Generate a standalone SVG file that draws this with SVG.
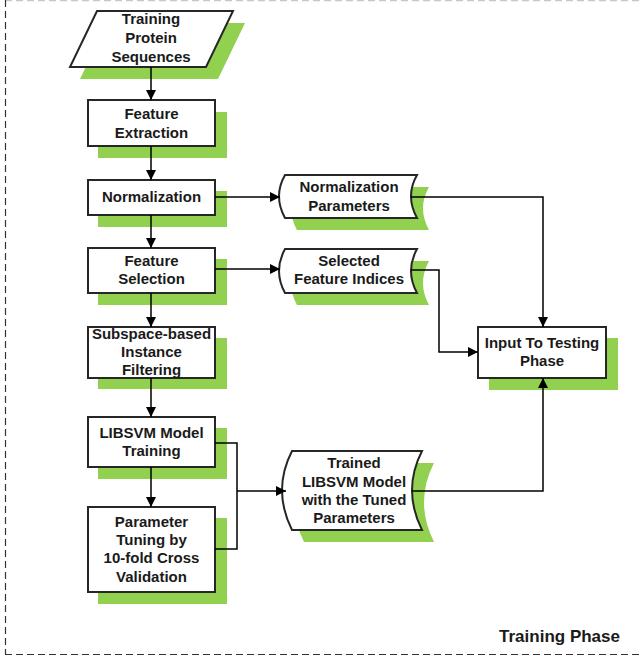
<svg xmlns="http://www.w3.org/2000/svg" width="642" height="657" viewBox="0 0 642 657">
<style>
.sh{fill:#92d050;stroke:none}
.nd{fill:#fff;stroke:#262626;stroke-width:2}
.t{font-family:"Liberation Sans",Arial,sans-serif;font-weight:bold;font-size:15px;fill:#1a1a1a;text-anchor:middle}
.c{fill:none;stroke:#000;stroke-width:1.5}
</style>
<defs>
<marker id="ah" viewBox="0 0 10 10" refX="10" refY="5" markerWidth="10" markerHeight="10" markerUnits="userSpaceOnUse" orient="auto">
<path d="M0,0 L10,5 L0,10 Z" fill="#000"/>
</marker>
</defs>
<rect width="642" height="657" fill="#fff"/>
<g id="border">
<line x1="5" y1="0.5" x2="642" y2="0.5" stroke="#c8c8c8" stroke-width="1.5" stroke-dasharray="7 4"/>
<line x1="5.5" y1="0" x2="5.5" y2="654.5" stroke="#333" stroke-width="1.2" stroke-dasharray="7 4"/>
<line x1="5" y1="654.5" x2="642" y2="654.5" stroke="#333" stroke-width="1.2" stroke-dasharray="7 4"/>
</g>
<g id="n-training-protein">
<polygon class="sh" points="107,23 245,23 218,79 80,79"/>
<polygon class="nd" points="97,11 233,11 206,67 70,67"/>
<text class="t" x="151" y="24">Training</text>
<text class="t" x="151" y="43">Protein</text>
<text class="t" x="151" y="62">Sequences</text>
</g>
<g id="n-feature-extraction">
<rect class="sh" x="98" y="112" width="129" height="46"/>
<rect class="nd" x="88" y="100" width="127" height="46"/>
<text class="t" x="151.5" y="119">Feature</text>
<text class="t" x="151.5" y="138">Extraction</text>
</g>
<g id="n-normalization">
<rect class="sh" x="98" y="191" width="129" height="36"/>
<rect class="nd" x="88" y="180" width="127" height="35"/>
<text class="t" x="151.5" y="202">Normalization</text>
</g>
<g id="n-feature-selection">
<rect class="sh" x="98" y="259" width="129" height="46"/>
<rect class="nd" x="88" y="248" width="127" height="45"/>
<text class="t" x="151.5" y="266">Feature</text>
<text class="t" x="151.5" y="284">Selection</text>
</g>
<g id="n-subspace">
<rect class="sh" x="98" y="338" width="129" height="51"/>
<rect class="nd" x="88" y="327" width="127" height="51"/>
<text class="t" x="151.5" y="339">Subspace-based</text>
<text class="t" x="151.5" y="357">Instance</text>
<text class="t" x="151.5" y="375">Filtering</text>
</g>
<g id="n-libsvm-training">
<rect class="sh" x="98" y="428" width="129" height="51"/>
<rect class="nd" x="88" y="417" width="127" height="50"/>
<text class="t" x="151.5" y="438">LIBSVM Model</text>
<text class="t" x="151.5" y="456">Training</text>
</g>
<g id="n-parameter-tuning">
<rect class="sh" x="98" y="518" width="129" height="86"/>
<rect class="nd" x="88" y="507" width="127" height="85"/>
<text class="t" x="151.5" y="527">Parameter</text>
<text class="t" x="151.5" y="545">Tuning by</text>
<text class="t" x="151.5" y="563">10-fold Cross</text>
<text class="t" x="151.5" y="582">Validation</text>
</g>
<g id="n-normalization-params">
<path class="sh" d="M297,187 L429,187 Q417,208 429,230 L297,230 Q285,208 297,187 Z"/>
<path class="nd" d="M285,175 L417,175 Q405,196 417,218 L285,218 Q273,196 285,175 Z"/>
<text class="t" x="349" y="192">Normalization</text>
<text class="t" x="349" y="211">Parameters</text>
</g>
<g id="n-selected-feature">
<path class="sh" d="M297,261 L429,261 Q417,283 429,305 L297,305 Q285,283 297,261 Z"/>
<path class="nd" d="M285,249 L417,249 Q405,271 417,293 L285,293 Q273,271 285,249 Z"/>
<text class="t" x="349" y="266">Selected</text>
<text class="t" x="349" y="284">Feature Indices</text>
</g>
<g id="n-input-testing">
<rect class="sh" x="489" y="338" width="129" height="52"/>
<rect class="nd" x="478" y="327" width="128" height="51"/>
<text class="t" x="542" y="348">Input To Testing</text>
<text class="t" x="542" y="366">Phase</text>
</g>
<g id="n-trained-model">
<path class="sh" d="M304,463 L434,463 Q414,502 434,542 L304,542 Q284,502 304,463 Z"/>
<path class="nd" d="M292,451 L422,451 Q402,490 422,530 L292,530 Q272,490 292,451 Z"/>
<text class="t" x="354" y="468">Trained</text>
<text class="t" x="354" y="487">LIBSVM Model</text>
<text class="t" x="354" y="505">with the Tuned</text>
<text class="t" x="354" y="523">Parameters</text>
</g>
<g id="connectors">
<line class="c" x1="151" y1="67" x2="151" y2="100" marker-end="url(#ah)"/>
<line class="c" x1="151" y1="146" x2="151" y2="180" marker-end="url(#ah)"/>
<line class="c" x1="151" y1="215" x2="151" y2="248" marker-end="url(#ah)"/>
<line class="c" x1="151" y1="293" x2="151" y2="327" marker-end="url(#ah)"/>
<line class="c" x1="151" y1="378" x2="151" y2="417" marker-end="url(#ah)"/>
<line class="c" x1="151" y1="467" x2="151" y2="507" marker-end="url(#ah)"/>
<line class="c" x1="215" y1="197" x2="280" y2="197" marker-end="url(#ah)"/>
<line class="c" x1="215" y1="269" x2="280" y2="269" marker-end="url(#ah)"/>
<polyline class="c" points="411,197 543,197 543,327" marker-end="url(#ah)"/>
<polyline class="c" points="411,270 439,270 439,352 478,352" marker-end="url(#ah)"/>
<polyline class="c" points="215,443 237,443 237,549 215,549"/>
<line class="c" x1="237" y1="491" x2="286" y2="491" marker-end="url(#ah)"/>
<polyline class="c" points="412,491 543,491 543,378" marker-end="url(#ah)"/>
</g>
<text id="phase-label" x="620" y="642" style="font-family:'Liberation Sans',Arial,sans-serif;font-weight:bold;font-size:17px;fill:#1a1a1a;text-anchor:end">Training Phase</text>
</svg>
